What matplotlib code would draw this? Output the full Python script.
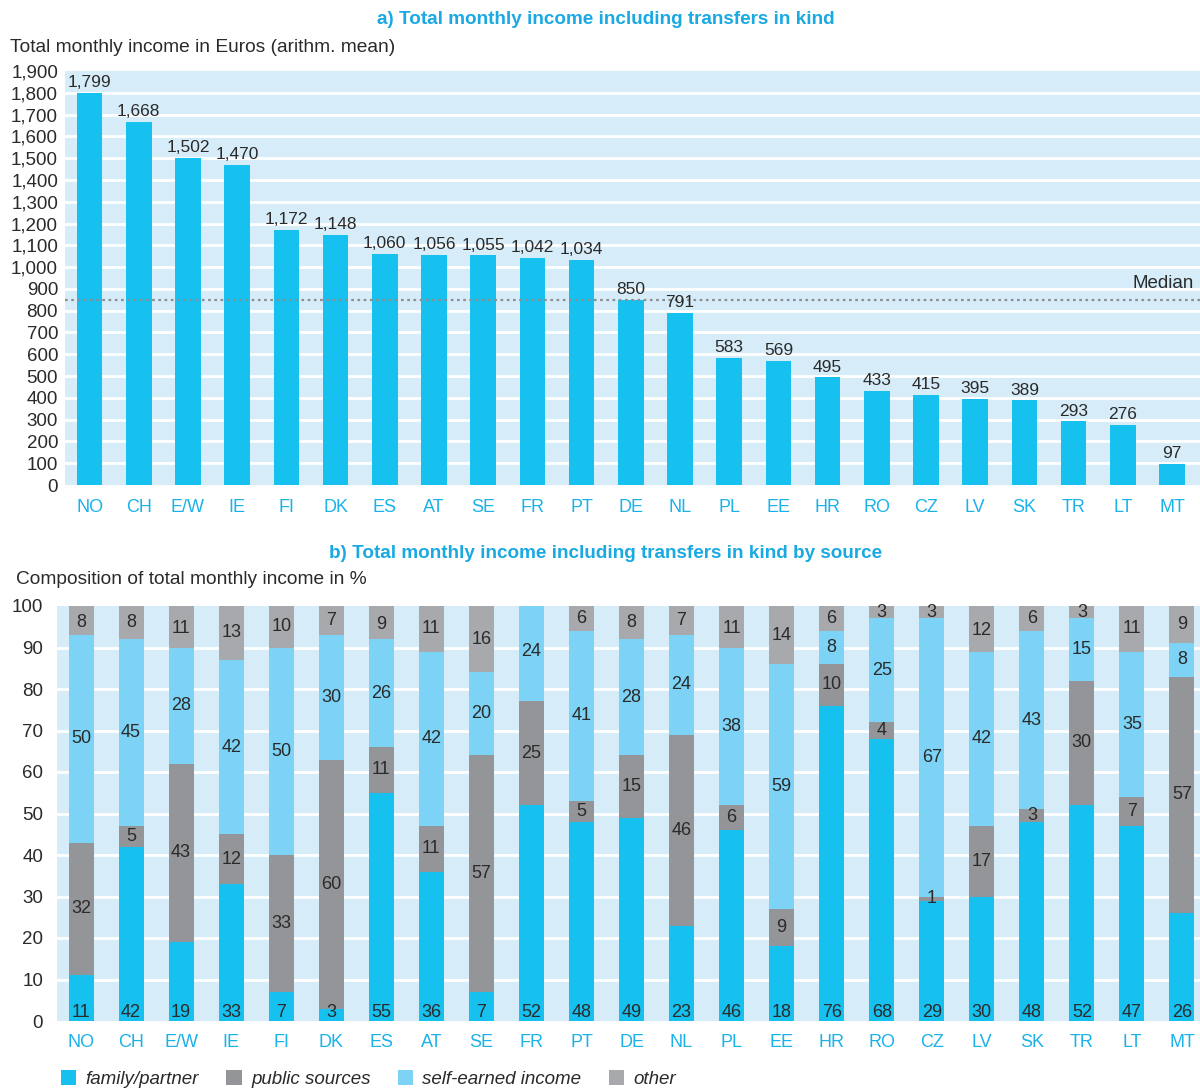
import matplotlib
matplotlib.use("Agg")
import matplotlib.pyplot as plt
from matplotlib.patches import Patch
import numpy as np

plt.rcParams['font.family'] = ['Liberation Sans', 'DejaVu Sans']

countries = ["NO", "CH", "E/W", "IE", "FI", "DK", "ES", "AT", "SE", "FR", "PT", "DE",
             "NL", "PL", "EE", "HR", "RO", "CZ", "LV", "SK", "TR", "LT", "MT"]
income = [1799, 1668, 1502, 1470, 1172, 1148, 1060, 1056, 1055, 1042, 1034, 850,
          791, 583, 569, 495, 433, 415, 395, 389, 293, 276, 97]
median_income = 850

family = [11, 42, 19, 33, 7, 3, 55, 36, 7, 52, 48, 49, 23, 46, 18, 76, 68, 29, 30, 48, 52, 47, 26]
public = [32, 5, 43, 12, 33, 60, 11, 11, 57, 25, 5, 15, 46, 6, 9, 10, 4, 1, 17, 3, 30, 7, 57]
self_earned = [50, 45, 28, 42, 50, 30, 26, 42, 20, 24, 41, 28, 24, 38, 59, 8, 25, 67, 42, 43, 15, 35, 8]
other = [8, 8, 11, 13, 10, 7, 9, 11, 16, 0, 6, 8, 7, 11, 14, 6, 3, 3, 12, 6, 3, 11, 9]

C_FAMILY = "#16C1F0"
C_PUBLIC = "#939598"
C_SELF = "#7DD3F5"
C_OTHER = "#A7A9AC"
C_BG = "#D6EDF9"
C_TITLE = "#1AA9E2"
C_TICK = "#1AB2E8"
C_TEXT = "#2A2A2A"

fig = plt.figure(figsize=(12, 10.9), dpi=100)
W, H = 1200, 1090

x = np.arange(len(countries))

# ---- panel a: mean income ----
ax1 = fig.add_axes([65 / W, 1 - 485 / H, (W - 65) / W, (485 - 71) / H])
ax1.set_facecolor(C_BG)
ax1.set_xlim(-0.5, len(countries) - 0.43)
ax1.set_ylim(0, 1900)
for yv in range(100, 1900, 100):
    ax1.axhline(yv, color="white", lw=2, zorder=1)
ax1.bar(x, income, width=0.52, color=C_FAMILY, zorder=2)
for xi, v in zip(x, income):
    ax1.text(xi, v + 12, f"{v:,}", ha="center", va="bottom", fontsize=12.5, color=C_TEXT, zorder=4)
ax1.axhline(median_income, color="#8C8E91", lw=1.6, ls=(0, (1.2, 1.6)), zorder=3)
ax1.text(len(countries) - 0.55, median_income + 38, "Median", ha="right", va="bottom",
         fontsize=13.5, color=C_TEXT)
ax1.set_yticks(range(0, 2000, 100))
ax1.set_yticklabels([f"{v:,}" for v in range(0, 2000, 100)], fontsize=13.5, color=C_TEXT)
ax1.set_xticks(x)
ax1.set_xticklabels(countries, fontsize=13, color=C_TICK)
ax1.tick_params(axis="x", length=0, pad=10)
ax1.tick_params(axis="y", length=0, pad=5)
for s in ax1.spines.values():
    s.set_visible(False)

fig.text(606 / W, 1 - 20 / H, "a) Total monthly income including transfers in kind",
         ha="center", va="center", fontsize=13.6, fontweight="bold", color=C_TITLE)
fig.text(10 / W, 1 - 48 / H, "Total monthly income in Euros (arithm. mean)",
         ha="left", va="center", fontsize=13.8, color=C_TEXT)

# ---- panel b: composition by source ----
ax2 = fig.add_axes([57 / W, 1 - 1021 / H, (W - 57) / W, (1021 - 606) / H])
ax2.set_facecolor(C_BG)
ax2.set_xlim(-0.48, len(countries) - 0.64)
ax2.set_ylim(0, 100)
for yv in range(10, 100, 10):
    ax2.axhline(yv, color="white", lw=2, zorder=1)

series = [(family, C_FAMILY), (public, C_PUBLIC), (self_earned, C_SELF), (other, C_OTHER)]
bottom = np.zeros(len(countries))
for idx, (vals, col) in enumerate(series):
    vals = np.array(vals, dtype=float)
    ax2.bar(x, vals, bottom=bottom, width=0.5, color=col, zorder=2)
    for xi, b, v in zip(x, bottom, vals):
        if v <= 0:
            continue
        if idx == 0:
            ax2.text(xi, 0.9, f"{int(v)}", ha="center", va="baseline", fontsize=13,
                     color=C_TEXT, zorder=4)
        else:
            yc = min(b + v / 2, 100 - v / 2) if idx == 3 else b + v / 2
            ax2.text(xi, yc, f"{int(v)}", ha="center", va="center", fontsize=13,
                     color=C_TEXT, zorder=4)
    bottom += vals

ax2.set_yticks(range(0, 101, 10))
ax2.set_yticklabels([str(v) for v in range(0, 101, 10)], fontsize=13.5, color=C_TEXT)
ax2.set_xticks(x)
ax2.set_xticklabels(countries, fontsize=13, color=C_TICK)
ax2.tick_params(axis="x", length=0, pad=9.5)
ax2.tick_params(axis="y", length=0, pad=10)
for s in ax2.spines.values():
    s.set_visible(False)

fig.text(606 / W, 1 - 554 / H, "b) Total monthly income including transfers in kind by source",
         ha="center", va="center", fontsize=13.6, fontweight="bold", color=C_TITLE)
fig.text(16 / W, 1 - 580 / H, "Composition of total monthly income in %",
         ha="left", va="center", fontsize=13.8, color=C_TEXT)

handles = [Patch(facecolor=C_FAMILY, label="family/partner"),
           Patch(facecolor=C_PUBLIC, label="public sources"),
           Patch(facecolor=C_SELF, label="self-earned income"),
           Patch(facecolor=C_OTHER, label="other")]
fig.legend(handles=handles, loc="center left", bbox_to_anchor=(61 / W, 11 / H), ncol=4,
           frameon=False, handlelength=0.82, handleheight=0.87, handletextpad=0.5,
           columnspacing=1.45, borderpad=0, borderaxespad=0,
           prop={"size": 13.5, "style": "italic"}, labelcolor=C_TEXT)

fig.savefig("out.png", dpi=100)
